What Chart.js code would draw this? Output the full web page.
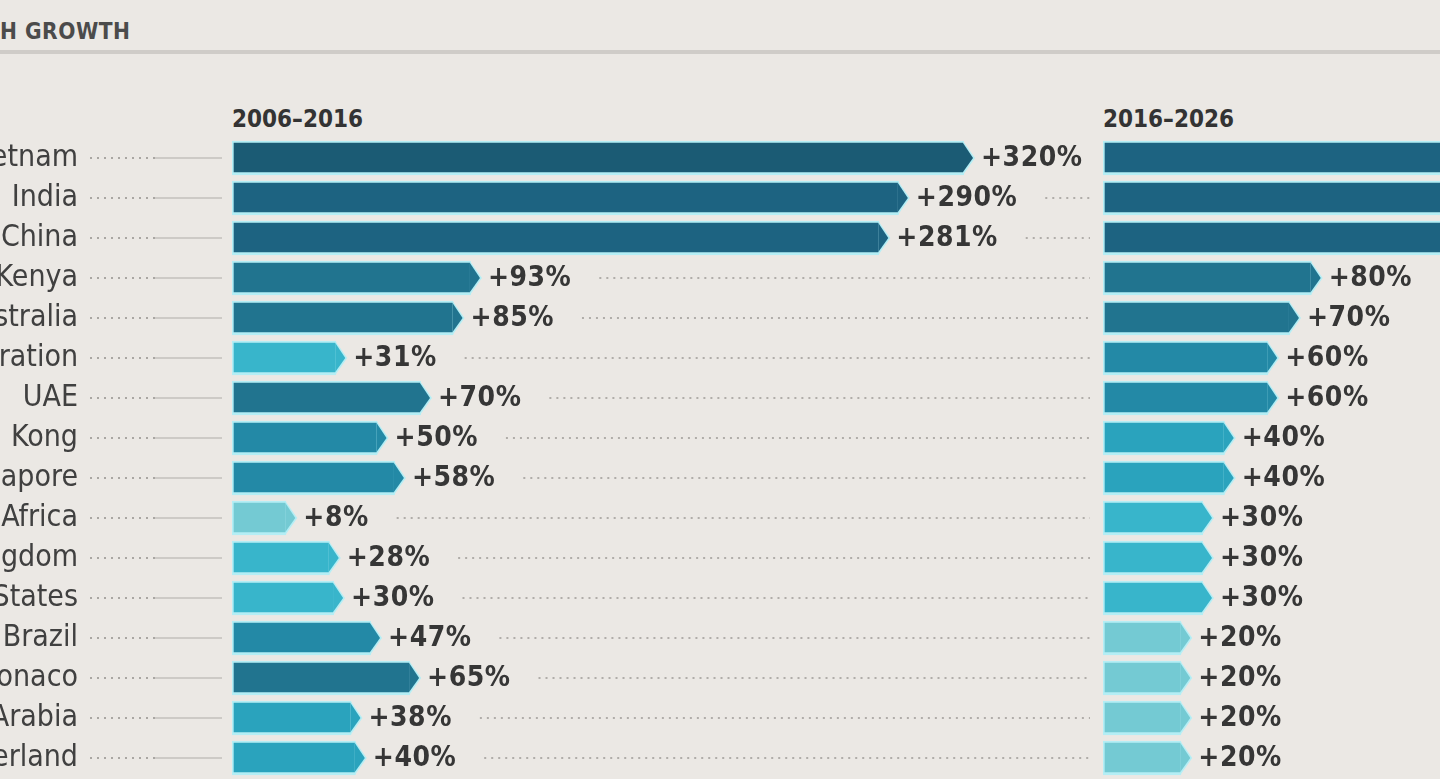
<!DOCTYPE html>
<html>
<head>
<meta charset="utf-8">
<script src="https://cdn.jsdelivr.net/npm/chart.js@4.4.0/dist/chart.umd.min.js"></script>
<style>
html, body { margin: 0; padding: 0; }
body {
    width: 1440px; height: 779px; overflow: hidden; position: relative;
    background: #ebe8e4;
    font-family: 'DejaVu Sans Condensed', 'Liberation Sans Narrow', sans-serif;
}
.title { position: absolute; left: 0; top: 19px; font-weight: bold; font-size: 22.5px; line-height: 24px; letter-spacing: 0.5px; color: #4b4b4b; white-space: nowrap; }
.rule { position: absolute; left: 0; top: 50px; width: 1440px; height: 4px; background: #cfccc8; }
.period { position: absolute; top: 106px; font-weight: bold; font-size: 24px; line-height: 26px; letter-spacing: 0; color: #333; white-space: nowrap; }
#leftChart { position: absolute; left: -220px; top: 0; }
#rightChart { position: absolute; left: 1090px; top: 0; }
</style>
</head>
<body>
<div class="title">H GROWTH</div>
<div class="rule"></div>
<div class="period" id="periodA" style="left:232px"></div>
<div class="period" id="periodB" style="left:1103px"></div>
<canvas id="leftChart" width="1310" height="779"></canvas>
<canvas id="rightChart" width="700" height="779"></canvas>
<script>
const countries = ['Vietnam', 'India', 'China', 'Kenya', 'Australia', 'Russian Federation', 'UAE', 'Hong Kong',
    'Singapore', 'South Africa', 'United Kingdom', 'United States', 'Brazil', 'Monaco', 'Saudi Arabia', 'Switzerland'];
const growth2006to2016 = [320, 290, 281, 93, 85, 31, 70, 50, 58, 8, 28, 30, 47, 65, 38, 40];
const growth2016to2026 = [170, 150, 140, 80, 70, 60, 60, 40, 40, 30, 30, 30, 20, 20, 20, 20];
const periods = ['2006–2016', '2016–2026'];

document.getElementById('periodA').textContent = periods[0];
document.getElementById('periodB').textContent = periods[1];

const fontFamily = "'DejaVu Sans Condensed', 'Liberation Sans Narrow', sans-serif";

// darker teal for the bigger numbers
function shade(v) {
    if (v >= 300) return '#1b5b74';
    if (v >= 140) return '#1d6381';
    if (v >= 65) return '#21748f';
    if (v >= 45) return '#2389a6';
    if (v >= 35) return '#2aa3bd';
    if (v >= 25) return '#38b5cb';
    return '#74cad3';
}

// arrow tips, value labels and the dotted leaders
const arrowBars = {
    id: 'arrowBars',
    afterDatasetsDraw(chart, args, opts) {
        const ctx = chart.ctx;
        const area = chart.chartArea;
        const values = chart.data.datasets[0].data;
        ctx.save();
        chart.getDatasetMeta(0).data.forEach((bar, i) => {
            const half = bar.height / 2;

            ctx.beginPath();
            ctx.moveTo(bar.x - 1, bar.y - half);
            ctx.lineTo(bar.x + 11, bar.y);
            ctx.lineTo(bar.x - 1, bar.y + half);
            ctx.closePath();
            ctx.fillStyle = '#b4eef5';
            ctx.fill();

            ctx.beginPath();
            ctx.moveTo(bar.x - 1, bar.y - half + 2);
            ctx.lineTo(bar.x + 9, bar.y);
            ctx.lineTo(bar.x - 1, bar.y + half - 3);
            ctx.closePath();
            ctx.fillStyle = shade(values[i]);
            ctx.fill();

            const text = '+' + values[i] + '%';
            const lx = bar.x + 17;
            ctx.font = 'bold 28px ' + fontFamily;
            ctx.letterSpacing = '0.5px';
            ctx.fillStyle = '#363636';
            ctx.textAlign = 'left';
            ctx.textBaseline = 'middle';
            ctx.fillText(text, lx, bar.y + 1);
            const end = lx + ctx.measureText(text).width;
            ctx.letterSpacing = '0px';

            if (opts.lead) {
                ctx.setLineDash([2, 5]);
                ctx.lineWidth = 2;
                ctx.strokeStyle = '#a9a6a2';
                ctx.beginPath();
                ctx.moveTo(area.left - 142, bar.y);
                ctx.lineTo(area.left - 77, bar.y);
                ctx.stroke();
                ctx.setLineDash([]);
                ctx.lineWidth = 1.5;
                ctx.strokeStyle = '#c3c0bc';
                ctx.beginPath();
                ctx.moveTo(area.left - 77, bar.y);
                ctx.lineTo(area.left - 10, bar.y);
                ctx.stroke();
            }
            if (opts.trail && end + 28 < chart.width) {
                ctx.setLineDash([2, 5]);
                ctx.lineWidth = 2;
                ctx.strokeStyle = '#b0ada9';
                ctx.beginPath();
                ctx.moveTo(end + 28, bar.y);
                ctx.lineTo(chart.width, bar.y);
                ctx.stroke();
                ctx.setLineDash([]);
            }
        });
        ctx.restore();
    }
};

function barDataset(label, values, base) {
    return {
        label: label,
        data: values,
        base: base,
        barThickness: 34,
        backgroundColor: c => shade(c.raw),
        borderColor: '#b4eef5',
        borderWidth: { top: 2, right: 0, bottom: 3, left: 2 },
        borderSkipped: false
    };
}

new Chart(document.getElementById('leftChart'), {
    type: 'bar',
    data: { labels: countries, datasets: [barDataset(periods[0], growth2006to2016, -17)] },
    plugins: [arrowBars],
    options: {
        responsive: false,
        animation: false,
        indexAxis: 'y',
        layout: { padding: { top: 138, bottom: 1, left: 0, right: 0 } },
        plugins: {
            legend: { display: false },
            tooltip: { enabled: false },
            arrowBars: { lead: true, trail: true }
        },
        scales: {
            x: { display: false, min: -17, max: 378 },
            y: {
                grid: { display: false, drawTicks: false },
                border: { display: false },
                ticks: { padding: 154, color: '#404040', font: { family: fontFamily, size: 30 } },
                afterFit(scale) {
                    // the big tick padding must not eat vertical room
                    scale.width = 452;
                    scale.paddingTop = 0;
                    scale.paddingBottom = 0;
                }
            }
        }
    }
});

new Chart(document.getElementById('rightChart'), {
    type: 'bar',
    data: { labels: countries, datasets: [barDataset(periods[1], growth2016to2026, -16)] },
    plugins: [arrowBars],
    options: {
        responsive: false,
        animation: false,
        indexAxis: 'y',
        layout: { padding: { top: 138, bottom: 1, left: 13, right: 0 } },
        plugins: {
            legend: { display: false },
            tooltip: { enabled: false },
            arrowBars: { lead: false, trail: false }
        },
        scales: {
            x: { display: false, min: -16, max: 300 },
            y: { display: false }
        }
    }
});
</script>
</body>
</html>
